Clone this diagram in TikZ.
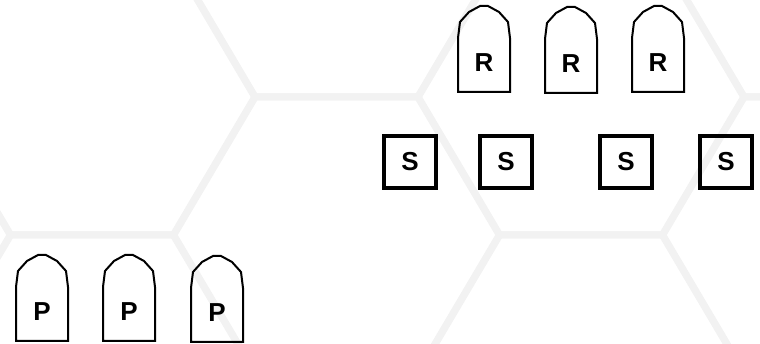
\documentclass[tikz,border=0pt]{standalone}
\usepackage{fontspec}
\setmainfont{Liberation Sans}
\begin{document}
\begin{tikzpicture}[x=1pt,y=-1pt,
  hexline/.style={draw=black!5, line width=7pt, line join=round},
  lbl/.style={font=\fontsize{26}{30}\selectfont\bfseries, inner sep=0pt},
  sbox/.style={lbl, draw=black, line width=4pt, minimum width=52pt, minimum height=52pt},
  tombline/.style={draw=black, line width=2pt, line join=miter},
  tomb/.pic={\draw[tombline] (-26,29) -- (-26,-25) -- (-24,-41) -- (-15,-51) -- (-4,-57) -- (4,-57) -- (15,-51) -- (24,-41) -- (26,-25) -- (26,29) -- cycle;}
]
\useasboundingbox (0,0) rectangle (760,344);
\fill[white] (0,0) rectangle (760,344);
% faint honeycomb background
\begin{scope}
\clip (0,0) rectangle (760,344);
\foreach \j in {-1,...,4} {
  \foreach \k in {-1,0,1} {
    \pgfmathsetmacro\cx{92+244.5*\j}
    \pgfmathsetmacro\cy{97+276*\k+138*mod(\j+2,2)}
    \draw[hexline] (\cx-163,\cy) -- (\cx-81.5,\cy-138) -- (\cx+81.5,\cy-138) -- (\cx+163,\cy) -- (\cx+81.5,\cy+138) -- (\cx-81.5,\cy+138) -- cycle;
  }
}
\end{scope}
% R shapes
\node[lbl] (r1) at (484,63) {R};
\node[lbl] (r2) at (571,64) {R};
\node[lbl] (r3) at (658,63) {R};
\pic at (r1.center) {tomb};
\pic at (r2.center) {tomb};
\pic at (r3.center) {tomb};
% S boxes
\node[sbox] (s1) at (410,162) {S};
\node[sbox] (s2) at (506,162) {S};
\node[sbox] (s3) at (626,162) {S};
\node[sbox] (s4) at (726,162) {S};
% P shapes
\node[lbl] (p1) at (42,312) {P};
\node[lbl] (p2) at (129,312) {P};
\node[lbl] (p3) at (217,313) {P};
\pic at (p1.center) {tomb};
\pic at (p2.center) {tomb};
\pic at (p3.center) {tomb};
\end{tikzpicture}
\end{document}
